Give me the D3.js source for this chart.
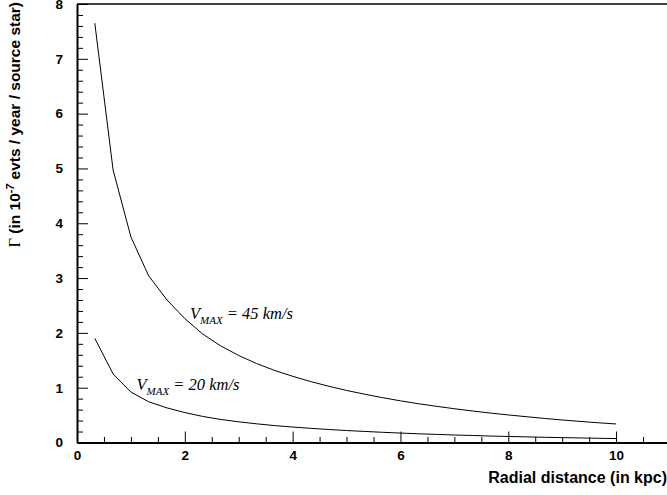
<!DOCTYPE html>
<html>
<head>
<meta charset="utf-8">
<script src="https://cdn.jsdelivr.net/npm/d3@7"></script>
<style>
  html, body { margin: 0; padding: 0; background: #fff; }
  svg { display: block; }
  .tick text { font-family: "Liberation Sans", Arial, sans-serif; font-weight: bold; font-size: 13.5px; fill: #000; }
</style>
</head>
<body>
<svg id="chart" width="667" height="495"></svg>
<script>
// ---- data ----
const radius = [0.33,0.67,1.0,1.33,1.67,2.0,2.33,2.67,3.0,3.33,3.67,4.0,4.33,4.67,5.0,5.33,5.67,6.0,6.33,6.67,7.0,7.33,7.67,8.0,8.33,8.67,9.0,9.33,9.67,10.0];
const rate45 = [7.65,4.97,3.75,3.04,2.60,2.26,1.98,1.76,1.587,1.441,1.313,1.208,1.113,1.026,0.950,0.882,0.817,0.760,0.708,0.660,0.616,0.576,0.537,0.503,0.471,0.439,0.411,0.385,0.360,0.338];
const rate20 = [1.90,1.25,0.92,0.743,0.631,0.546,0.476,0.420,0.377,0.341,0.308,0.282,0.259,0.237,0.218,0.202,0.186,0.172,0.159,0.148,0.137,0.128,0.118,0.110,0.103,0.095,0.089,0.083,0.077,0.072];
const xMajorTicks = [0,2,4,6,8,10];
const xMinorTicks = [0.5,1,1.5,2.5,3,3.5,4.5,5,5.5,6.5,7,7.5,8.5,9,9.5,10.5,11];
const yMajorTicks = [0,1,2,3,4,5,6,7,8];
const yMinorTicks = d3.range(0, 41).map(i => i / 5).filter(v => Math.abs(v - Math.round(v)) > 1e-6);

const svg = d3.select("#chart");
const x = d3.scaleLinear().domain([0, 11]).range([77, 670]);
const y = d3.scaleLinear().domain([0, 8]).range([442.5, 4]);

// top border
svg.append("line").attr("x1", 77).attr("x2", 667).attr("y1", y(8)).attr("y2", y(8))
  .attr("stroke", "#000").attr("stroke-width", 1.4);

// minor ticks
svg.append("g").attr("transform", `translate(0,${y(0)})`)
  .call(d3.axisBottom(x).tickValues(xMinorTicks).tickSizeInner(-5.5).tickSizeOuter(0).tickFormat(""))
  .call(g => g.select(".domain").remove())
  .call(g => g.selectAll("line").attr("stroke", "#000").attr("stroke-width", 1));
svg.append("g").attr("transform", `translate(77,0)`)
  .call(d3.axisLeft(y).tickValues(yMinorTicks).tickSizeInner(-6).tickSizeOuter(0).tickFormat(""))
  .call(g => g.select(".domain").remove())
  .call(g => g.selectAll("line").attr("stroke", "#000").attr("stroke-width", 1));

// major axes
const xAxis = svg.append("g").attr("transform", `translate(0,${y(0)})`)
  .call(d3.axisBottom(x).tickValues(xMajorTicks).tickSizeInner(-11).tickSizeOuter(0).tickPadding(8).tickFormat(d3.format("d")));
xAxis.select(".domain").attr("stroke", "#000").attr("stroke-width", 2);
xAxis.selectAll("line").attr("stroke", "#000").attr("stroke-width", 1);

const yAxis = svg.append("g").attr("transform", `translate(77,0)`)
  .call(d3.axisLeft(y).tickValues(yMajorTicks).tickSizeInner(-11).tickSizeOuter(0).tickPadding(14).tickFormat(d3.format("d")));
yAxis.select(".domain").attr("stroke", "#000").attr("stroke-width", 2);
yAxis.selectAll("line").attr("stroke", "#000").attr("stroke-width", 1);

// curves
const line = d3.line().x(d => x(d[0])).y(d => y(d[1]));
[rate45, rate20].forEach(series => {
  svg.append("path")
    .datum(radius.map((r, i) => [r, series[i]]))
    .attr("d", line)
    .attr("fill", "none").attr("stroke", "#000").attr("stroke-width", 1);
});

// curve labels
function vlabel(px, py, txt) {
  const t = svg.append("text").attr("x", px).attr("y", py)
    .attr("font-family", "'Liberation Serif', 'Times New Roman', serif")
    .attr("font-style", "italic").attr("font-size", 16.5).attr("fill", "#000");
  t.append("tspan").text("V");
  t.append("tspan").attr("font-size", 11).attr("dy", 5).text("MAX");
  t.append("tspan").attr("dy", -5).text(" = " + txt);
}
vlabel(190, 318.5, "45 km/s");
vlabel(136.5, 390, "20 km/s");

// axis titles
svg.append("text").attr("x", 667).attr("y", 483).attr("text-anchor", "end")
  .attr("font-family", "'Liberation Sans', Arial, sans-serif").attr("font-weight", "bold")
  .attr("font-size", 16).attr("fill", "#000").text("Radial distance (in kpc)");

const yt = svg.append("text").attr("transform", "translate(19.5,2) rotate(-90)")
  .attr("text-anchor", "end")
  .attr("font-family", "'Liberation Sans', Arial, sans-serif").attr("font-weight", "bold")
  .attr("font-size", 15.5).attr("fill", "#000");
yt.append("tspan").attr("font-family", "'Liberation Serif', 'Times New Roman', serif").attr("font-weight", "normal").attr("font-size", 16.5).text("Γ");
yt.append("tspan").text(" (in 10");
yt.append("tspan").attr("font-size", 10.5).attr("dy", -6).attr("font-style", "italic").text("-7");
yt.append("tspan").attr("dy", 6).text(" evts / year / source star)");
</script>
</body>
</html>
